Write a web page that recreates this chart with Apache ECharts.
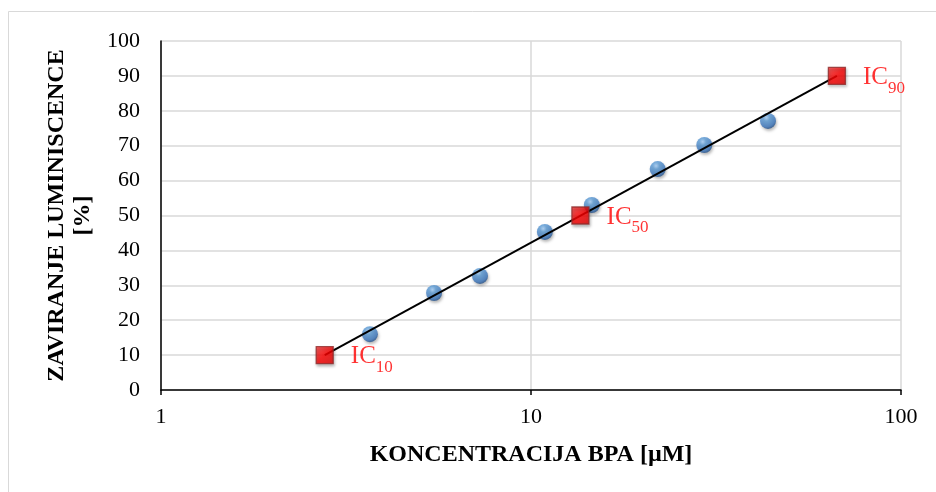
<!DOCTYPE html>
<html><head><meta charset="utf-8">
<script src="https://cdn.jsdelivr.net/npm/echarts@6/dist/echarts.min.js"></script>
<style>html,body{margin:0;padding:0;background:#fff}#c{width:936px;height:492px}</style>
</head><body><div id="c"></div>
<script>
const concentrations = [3.67, 5.47, 7.28, 10.9, 14.6, 22.0, 29.4, 43.7];
const inhibition = [16.0, 27.8, 32.7, 45.3, 53.0, 63.3, 70.2, 77.1];
const icNames = ['10', '50', '90'];
const icConc = [2.77, 13.6, 67.1];
const icValues = [10, 50, 90];
const trendConc = [2.77, 67.1];
const trendValues = [10, 90];
const yTicks = [0,10,20,30,40,50,60,70,80,90,100];

const F = '"Liberation Serif","Times New Roman",serif';
const chart = echarts.init(document.getElementById('c'));
const sphere = {
  type: 'radial', x: 0.4, y: 0.3, r: 0.7,
  colorStops: [{offset: 0, color: '#a9d1fa'}, {offset: 0.3, color: '#5b9bd5'}, {offset: 0.8, color: '#3b76bd'}, {offset: 1, color: '#24528c'}]
};
const redSq = {
  type: 'linear', x: 0, y: 0, x2: 1, y2: 1,
  colorStops: [{offset: 0, color: '#ff4040'}, {offset: 0.5, color: '#ff0000'}, {offset: 1, color: '#d80000'}]
};
chart.setOption({
  animation: false,
  backgroundColor: '#fff',
  graphic: [{type: 'rect', shape: {x: 8.5, y: 11.5, width: 940, height: 490}, style: {fill: 'none', stroke: '#d9d9d9', lineWidth: 1}, z: -1}],
  grid: {left: 161, right: 35, top: 41, bottom: 102},
  xAxis: {
    type: 'log', logBase: 10, min: 1, max: 100,
    axisLine: {lineStyle: {color: '#000', width: 1.5}},
    axisTick: {show: true, length: 5, lineStyle: {color: '#000', width: 1.5}},
    minorTick: {show: false},
    splitLine: {show: true, lineStyle: {color: '#d9d9d9', width: 1.5}},
    axisLabel: {fontFamily: F, fontSize: 22, color: '#000', margin: 16},
    name: 'KONCENTRACIJA BPA [µM]', nameLocation: 'middle', nameGap: 53,
    nameTextStyle: {fontFamily: F, fontSize: 24, fontWeight: 'bold', color: '#000', verticalAlign: 'top'}
  },
  yAxis: {
    type: 'value', min: 0, max: 100, interval: 10,
    axisLine: {show: true, lineStyle: {color: '#000', width: 1.5}},
    axisTick: {show: false},
    splitLine: {show: true, lineStyle: {color: '#d9d9d9', width: 1.5}},
    axisLabel: {fontFamily: F, fontSize: 22, color: '#000', margin: 21,
      formatter: v => yTicks.includes(v) ? String(v) : ''},
    name: 'ZAVIRANJE LUMINISCENCE\n[%]', nameLocation: 'middle', nameGap: 65, nameRotate: 90,
    nameTextStyle: {fontFamily: F, fontSize: 24, fontWeight: 'bold', color: '#000', lineHeight: 26, align: 'center'}
  },
  series: [
    {
      type: 'line', data: trendConc.map((c, i) => [c, trendValues[i]]),
      showSymbol: false, lineStyle: {color: '#000', width: 2}, z: 3
    },
    {
      type: 'scatter', data: concentrations.map((c, i) => [c, inhibition[i]]),
      symbol: 'circle', symbolSize: 16,
      itemStyle: {color: sphere, shadowColor: 'rgba(0,0,0,0.35)', shadowBlur: 3, shadowOffsetX: 1, shadowOffsetY: 2},
      z: 2
    },
    {
      type: 'scatter', data: icConc.map((c, i) => ({value: [c, icValues[i]], name: icNames[i]})),
      symbol: 'rect', symbolSize: 17,
      itemStyle: {color: redSq, borderColor: '#8e2a2a', borderWidth: 1.3, shadowColor: 'rgba(0,0,0,0.35)', shadowBlur: 3, shadowOffsetX: 1, shadowOffsetY: 2},
      label: {
        show: true, position: 'right', distance: 17, offset: [0, 5],
        formatter: p => '{a|IC}{b|' + p.name + '}',
        rich: {
          a: {fontFamily: F, fontSize: 25, color: '#ff0000', verticalAlign: 'top'},
          b: {fontFamily: F, fontSize: 17, color: '#ff0000', verticalAlign: 'bottom', padding: [15, 0, 0, 0]}
        }
      },
      z: 4
    }
  ]
});
</script></body></html>
